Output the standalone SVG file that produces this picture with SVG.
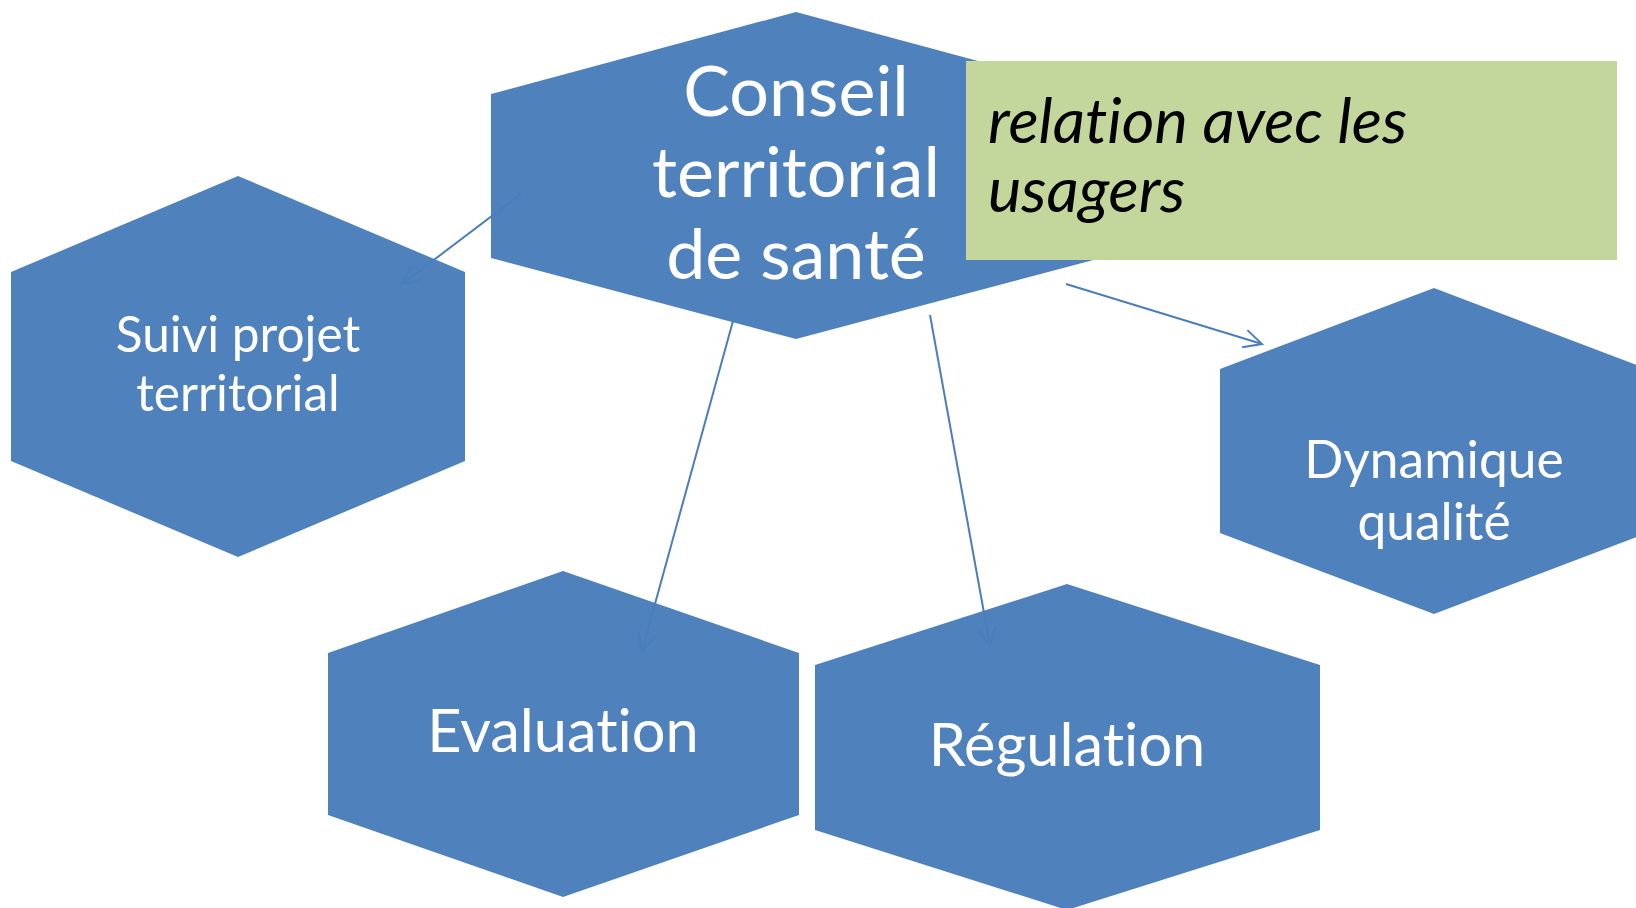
<svg xmlns="http://www.w3.org/2000/svg" width="1636" height="908" viewBox="0 0 1636 908">
<style>
.hex{fill:#4F81BD}
.t{font-family:Lato,"Open Sans","Liberation Sans",sans-serif;fill:#FFFFFF;text-anchor:middle;font-variant-ligatures:none}
.c{stroke:#4A7EBB;stroke-width:2;fill:none;marker-end:url(#arr)}
.note{font-family:Lato,"Open Sans","Liberation Sans",sans-serif;font-style:italic;fill:#000000;font-variant-ligatures:none}
</style>
<defs>
<marker id="arr" markerUnits="userSpaceOnUse" markerWidth="24" markerHeight="24" refX="20" refY="12" orient="auto" viewBox="0 0 24 24">
<path d="M2,3 L20,12 L2,21" fill="none" stroke="#4A7EBB" stroke-width="2"/>
</marker>
</defs>
<rect width="1636" height="908" fill="#FFFFFF"/>
<g id="node-conseil">
<polygon class="hex" points="796,12 1101,94 1101,258 796,339 491,258 491,94"/>
<text class="t" font-size="70"><tspan x="796" y="116">Conseil</tspan><tspan x="796" y="197">territorial</tspan><tspan x="796" y="279">de santé</tspan></text>
</g>
<g id="node-suivi">
<polygon class="hex" points="238,176 465,272 465,461 238,557 11,461 11,272"/>
<text class="t" font-size="49.5"><tspan x="238" y="352">Suivi projet</tspan><tspan x="238" y="411">territorial</tspan></text>
</g>
<g id="node-evaluation">
<polygon class="hex" points="563,571 799,653 799,815 563,897 328,815 328,653"/>
<text class="t" font-size="59.5" x="563" y="752">Evaluation</text>
</g>
<g id="node-regulation">
<polygon class="hex" points="1067,584 1320,665 1320,830 1067,910 815,830 815,665"/>
<text class="t" font-size="59.5" x="1067" y="766">Régulation</text>
</g>
<g id="node-dynamique">
<polygon class="hex" points="1434,288 1647,369 1647,533 1434,614 1220,533 1220,369"/>
<text class="t" font-size="51.5"><tspan x="1434" y="478">Dynamique</tspan><tspan x="1434" y="540">qualité</tspan></text>
</g>
<g id="connectors">
<line class="c" x1="521" y1="194" x2="402" y2="284"/>
<line class="c" x1="733" y1="321" x2="642" y2="651"/>
<line class="c" x1="930" y1="315" x2="990" y2="646"/>
<line class="c" x1="1066" y1="284" x2="1262" y2="344"/>
</g>
<g id="node-note">
<rect x="966" y="61" width="651" height="199" fill="#C3D69B"/>
<text class="note" font-size="63"><tspan x="988" y="143">relation avec les</tspan><tspan x="988" y="212">usagers</tspan></text>
</g>
</svg>
